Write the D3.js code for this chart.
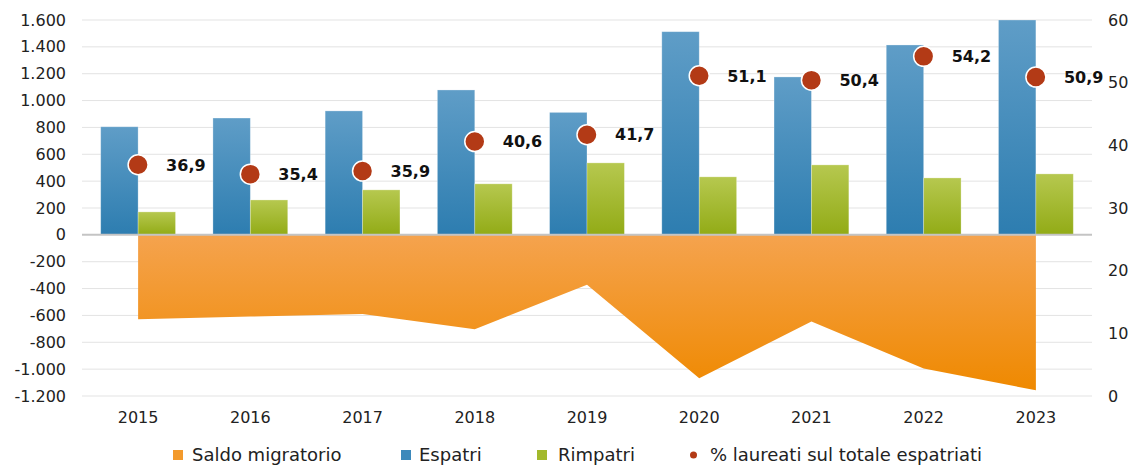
<!DOCTYPE html>
<html><head><meta charset="utf-8">
<script src="https://cdn.jsdelivr.net/npm/d3@7"></script>
<style>html,body{margin:0;padding:0;background:#fff;}svg{display:block;}</style>
</head><body>
<svg id="chart" width="1132" height="466"></svg>
<script>
const years = ["2015","2016","2017","2018","2019","2020","2021","2022","2023"];
const espatri = [805, 870, 923, 1079, 912, 1513, 1176, 1414, 1600];
const rimpatri = [171, 260, 335, 380, 536, 432, 521, 424, 454];
const saldo = [-628, -608, -590, -702, -372, -1068, -645, -995, -1158];
const laureati = [36.9, 35.4, 35.9, 40.6, 41.7, 51.1, 50.4, 54.2, 50.9];
const leftTicks = [-1200,-1000,-800,-600,-400,-200,0,200,400,600,800,1000,1200,1400,1600];
const rightTicks = [0,10,20,30,40,50,60];
const legendLabels = ["Saldo migratorio","Espatri","Rimpatri","% laureati sul totale espatriati"];

(function () {
const svg = d3.select("#chart");
const font = "'DejaVu Sans', sans-serif";
const pL = 82, pR = 1092, pT = 20, pB = 396;

const x = d3.scaleBand().domain(years).range([pL, pR]).padding(0);
const bw = x.bandwidth();
const y = d3.scaleLinear().domain([-1200, 1600]).range([pB, pT]);
const y2 = d3.scaleLinear().domain([0, 60]).range([pB, pT]);
const barW = bw / 3;
const x1 = d3.scaleBand().domain(["Espatri","Rimpatri"]).range([bw/2 - barW, bw/2 + barW]);

const defs = svg.append("defs");
function grad(id, c1, c2) {
  const g = defs.append("linearGradient").attr("id", id).attr("x1",0).attr("y1",0).attr("x2",0).attr("y2",1);
  g.append("stop").attr("offset","0%").attr("stop-color",c1);
  g.append("stop").attr("offset","100%").attr("stop-color",c2);
}
grad("gBlue", "#5f9dc7", "#2d7db0");
grad("gGreen", "#b6c84f", "#92ab16");
grad("gOrange", "#f5a34e", "#ef8900");

// gridlines
svg.append("g").selectAll("line").data(leftTicks.filter(t => t !== 0)).join("line")
  .attr("x1", pL).attr("x2", pR)
  .attr("y1", d => y(d)).attr("y2", d => y(d))
  .attr("stroke", "#e3e3e3").attr("stroke-width", 1);

// bars
const g = svg.append("g");
g.selectAll("rect.esp").data(years).join("rect").attr("class","esp")
  .attr("x", d => x(d) + x1("Espatri")).attr("width", x1.bandwidth())
  .attr("y", (d,i) => y(espatri[i])).attr("height", (d,i) => y(0) - y(espatri[i]))
  .attr("fill", "url(#gBlue)").attr("stroke","#ffffff").attr("stroke-opacity",0.35).attr("stroke-width",0.8);
g.selectAll("rect.rim").data(years).join("rect").attr("class","rim")
  .attr("x", d => x(d) + x1("Rimpatri")).attr("width", x1.bandwidth())
  .attr("y", (d,i) => y(rimpatri[i])).attr("height", (d,i) => y(0) - y(rimpatri[i]))
  .attr("fill", "url(#gGreen)").attr("stroke","#ffffff").attr("stroke-opacity",0.35).attr("stroke-width",0.8);

// area
const area = d3.area()
  .x((d,i) => x(years[i]) + bw/2)
  .y0(y(0)).y1(d => y(d));
svg.append("path").datum(saldo).attr("d", area).attr("fill", "url(#gOrange)");

// zero line
svg.append("line").attr("x1", pL).attr("x2", pR).attr("y1", y(0)).attr("y2", y(0))
  .attr("stroke", "#c4c4c4").attr("stroke-width", 2);

// left axis
const fmtL = d => d3.format(",")(d).replace(/,/g, ".").replace("\u2212", "-");
const axL = svg.append("g").attr("transform", `translate(${pL},0)`)
  .call(d3.axisLeft(y).tickValues(leftTicks).tickSize(0).tickPadding(16).tickFormat(fmtL));
axL.select(".domain").remove();
axL.selectAll("text").attr("font-family", font).attr("font-size", 16).attr("fill", "#222");

// right axis
const axR = svg.append("g").attr("transform", `translate(${pR},0)`)
  .call(d3.axisRight(y2).tickValues(rightTicks).tickSize(0).tickPadding(16));
axR.select(".domain").remove();
axR.selectAll("text").attr("font-family", font).attr("font-size", 16).attr("fill", "#222");

// x axis
const axB = svg.append("g").attr("transform", `translate(0,${pB})`)
  .call(d3.axisBottom(x).tickSize(0).tickPadding(16));
axB.select(".domain").remove();
axB.selectAll("text").attr("font-family", font).attr("font-size", 16).attr("fill", "#222");

// dots
svg.append("g").selectAll("circle").data(laureati).join("circle")
  .attr("cx", (d,i) => x(years[i]) + bw/2).attr("cy", d => y2(d)).attr("r", 10)
  .attr("fill", "#b33a16").attr("stroke", "#fff").attr("stroke-width", 1.5);

// data labels
svg.append("g").selectAll("text").data(laureati).join("text")
  .attr("x", (d,i) => x(years[i]) + bw/2 + 28).attr("y", d => y2(d))
  .attr("dy", "0.36em")
  .attr("font-family", font).attr("font-weight", "bold").attr("font-size", 16).attr("fill", "#111")
  .text(d => d3.format(".1f")(d).replace(".", ","));

// legend
const legMark = [173, 401, 537, 690];
const legText = [192, 419, 558, 710];
const leg = svg.append("g");
legendLabels.forEach((lab, i) => {
  if (i < 3) {
    leg.append("rect").attr("x", legMark[i]).attr("y", 450).attr("width", 10).attr("height", 10)
      .attr("fill", ["#f39a2c", "#3d89bb", "#a2b92c"][i]);
  } else {
    leg.append("circle").attr("cx", legMark[i] + 3.5).attr("cy", 455).attr("r", 3.5).attr("fill", "#b33a16");
  }
  leg.append("text").attr("x", legText[i]).attr("y", 455).attr("dy", "0.36em")
    .attr("font-family", font).attr("font-size", 18).attr("fill", "#222").text(lab);
});
})();
</script>
</body></html>
